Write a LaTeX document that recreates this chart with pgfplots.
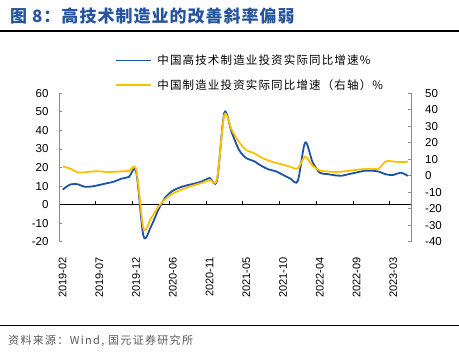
\documentclass[border=0pt]{standalone}
\usepackage{pgfplots}
\pgfplotsset{compat=1.18}
\usepackage{pgfplotstable}
\usepackage{fontspec}
\setmainfont{Liberation Sans}
\newfontfamily\cjk{Noto Sans CJK SC}
\newfontfamily\cjkleg[LetterSpace=10]{Noto Sans CJK SC}
\newfontfamily\cjktitle[LetterSpace=6]{Noto Sans CJK SC}
\newfontfamily\cjksrc[LetterSpace=12]{Noto Sans CJK SC}
\definecolor{cblue}{RGB}{30,82,165}
\definecolor{cyel}{RGB}{255,192,0}
\definecolor{ctitle}{RGB}{38,84,158}
\definecolor{caxis}{RGB}{140,140,140}
\definecolor{csrc}{RGB}{90,90,90}

\pgfplotstableread{
i b y
0 8.1 5.6
1 10.8 4.4
2 11.0 2.1
3 9.6 2.1
4 9.8 2.6
5 10.6 2.7
6 11.5 2.3
7 12.4 2.4
8 14.0 2.7
9 14.9 2.9
10 17.7 3.7
11 -17.0 -32.0
12 -12.0 -26.0
13 -3.0 -19.0
14 4.0 -14.0
15 7.5 -10.8
16 9.3 -8.8
17 10.5 -7.0
18 11.4 -5.6
19 12.6 -4.3
20 14.3 -2.5
21 13.0 -2.0
22 49.5 36.8
23 39.0 27.8
24 29.5 20.5
25 25.0 15.5
26 23.5 13.8
27 21.0 11.2
28 19.0 9.2
29 18.0 7.8
30 16.0 6.7
31 14.0 5.4
32 12.8 4.5
33 33.5 11.6
34 23.0 6.0
35 17.2 3.2
36 16.5 2.6
37 15.8 2.3
38 15.6 2.5
39 16.5 3.0
40 17.3 3.6
41 18.2 4.0
42 18.3 4.2
43 17.8 4.3
44 16.3 8.8
45 16.0 8.6
46 17.2 8.3
47 15.5 8.5
}\data

\begin{document}
\begin{tikzpicture}[x=1pt,y=1pt]
\path[use as bounding box] (0,0) rectangle (459,353);
\node[anchor=west, text=ctitle, font=\cjktitle\bfseries\fontsize{17}{19}\selectfont, inner sep=0pt] at (10,337.3) {图 8：高技术制造业的改善斜率偏弱};
\draw[line width=1.2pt] (0,322) -- (459,322);
\draw[line width=0.8pt] (0,28) -- (459,28);
\node[anchor=west, text=csrc, font=\cjksrc\fontsize{11}{12}\selectfont, inner sep=0pt] at (8,12) {资料来源：Wind, 国元证券研究所};

\begin{axis}[
  at={(59pt,111.3pt)}, anchor=south west, scale only axis,
  width=352.7pt, height=148.4pt,
  xmin=-0.5, xmax=47.5, ymin=-20, ymax=60,
  axis x line=middle, axis y line*=left,
  hide obscured x ticks=false, hide obscured y ticks=false,
  x axis line style={-, black, line width=0.8pt},
  y axis line style={-, caxis, line width=0.8pt},
  xtick={4.5,9.5,...,44.5}, xticklabels={},
  ytick={-20,-10,...,60},
  tick align=inside,
  major tick length=3.5pt,
  x tick style={black, line width=0.8pt},
  y tick style={caxis, line width=0.8pt},
  y tick label style={font=\fontsize{11.5}{12}\selectfont, text=black},
  yticklabel shift=7pt,
  /pgf/number format/assume math mode=true,
  legend style={at={(0.1588,1.272)}, anchor=north west, draw=none, fill=none,
    font=\cjkleg\fontsize{11.5}{13}\selectfont, row sep=9pt, inner sep=0pt,
    /tikz/every odd column/.append style={column sep=4pt}},
  legend cell align=left,
  legend image code/.code={\draw[#1, line width=1.2pt] (0pt,0pt) -- (35pt,0pt);},
]
\addplot[cblue, line width=1.8pt, smooth, tension=0.5] table[x=i, y=b] {\data};
\addlegendentry{中国高技术制造业投资实际同比增速\%}
\addlegendimage{cyel, line width=1.8pt}
\addlegendentry{中国制造业投资实际同比增速（右轴）\%}
\end{axis}

\begin{axis}[
  at={(59pt,111.3pt)}, anchor=south west, scale only axis,
  width=352.7pt, height=148.4pt,
  xmin=-0.5, xmax=47.5, ymin=-40, ymax=50,
  axis x line*=bottom, axis y line*=right,
  x axis line style={draw=none},
  y axis line style={-, caxis, line width=0.8pt},
  xtick={0,5,...,45},
  xticklabels={2019-02,2019-07,2019-12,2020-06,2020-11,2021-05,2021-10,2022-04,2022-09,2023-03},
  x tick style={draw=none},
  x tick label style={rotate=90, anchor=east, font=\fontsize{11}{12}\selectfont},
  xticklabel shift=12pt,
  ytick={-40,-30,...,50},
  tick align=inside,
  major tick length=3.5pt,
  y tick style={caxis, line width=0.8pt},
  y tick label style={font=\fontsize{11.5}{12}\selectfont, text=black, anchor=west},
  yticklabel shift=10pt,
  /pgf/number format/assume math mode=true,
]
\addplot[cyel, line width=1.8pt, smooth, tension=0.5] table[x=i, y=y] {\data};
\end{axis}
\end{tikzpicture}
\end{document}
